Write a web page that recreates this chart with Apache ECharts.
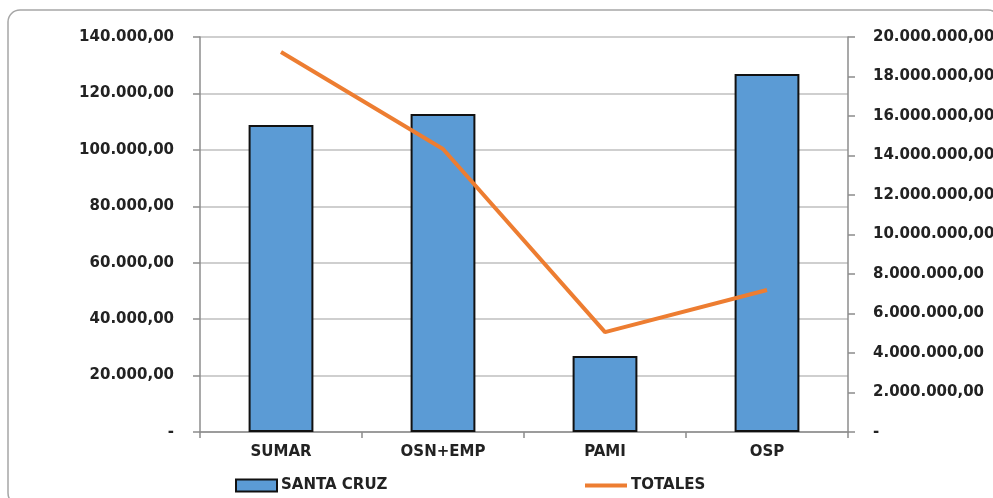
<!DOCTYPE html>
<html><head><meta charset="utf-8">
<script src="https://cdn.jsdelivr.net/npm/echarts@6/dist/echarts.min.js"></script>
<style>html,body{margin:0;padding:0;background:#fff}#c{width:993px;height:498px}</style>
</head><body><div id="c"></div>
<script>
const categories = ['SUMAR', 'OSN+EMP', 'PAMI', 'OSP'];
const santaCruz = [108800, 112700, 26900, 126900];
const totales = [19240000, 14330000, 5060000, 7190000];
const leftTicks = { min: 0, max: 140000, interval: 20000 };
const rightTicks = { min: 0, max: 20000000, interval: 2000000 };

function fmt(n) {
  if (n === 0) return '-';
  const s = Math.round(n).toString().replace(/\B(?=(\d{3})+(?!\d))/g, '.');
  return s + ',00';
}
const FONT = 'DejaVu Sans';
const txt = { fontFamily: FONT, fontSize: 15, fontWeight: 'bold', color: '#222' };
const chart = echarts.init(document.getElementById('c'), null, { renderer: 'canvas' });
chart.setOption({
  animation: false,
  backgroundColor: '#fff',
  graphic: [{
    type: 'rect', z: -10,
    shape: { x: 8, y: 10, width: 992, height: 495, r: 12 },
    style: { fill: '#fff', stroke: '#a6a6a6', lineWidth: 1.5 }
  }],
  grid: { left: 200, right: 145, top: 37, bottom: 66, containLabel: false, outerBoundsMode: 'none' },
  legend: [
    { data: [{ name: 'SANTA CRUZ', icon: 'rect' }], left: 235, top: 478, padding: 0, itemWidth: 41, itemHeight: 12,
      textStyle: Object.assign({}, txt, { padding: [0, 0, 0, -1] }) },
    { data: [{ name: 'TOTALES', icon: 'rect' }], left: 585, top: 478, padding: 0, itemWidth: 42, itemHeight: 4,
      itemStyle: { color: '#ed7d31', borderWidth: 0 },
      textStyle: Object.assign({}, txt, { padding: [0, 0, 0, -1] }) }
  ],
  xAxis: {
    type: 'category', data: categories,
    axisLine: { lineStyle: { color: '#8c8c8c', width: 1.5 } },
    axisTick: { show: true, length: 6, lineStyle: { color: '#8c8c8c', width: 1.5 } },
    axisLabel: Object.assign({}, txt, { margin: 13 })
  },
  yAxis: [{
    type: 'value', min: leftTicks.min, max: leftTicks.max, interval: leftTicks.interval,
    position: 'left',
    axisLine: { show: true, lineStyle: { color: '#8c8c8c', width: 1.5 } },
    axisTick: { show: true, length: 7, lineStyle: { color: '#8c8c8c', width: 1.5 } },
    splitLine: { show: true, lineStyle: { color: '#bfbfbf', width: 1.5 } },
    axisLabel: Object.assign({}, txt, { margin: 26, formatter: fmt })
  }, {
    type: 'value', min: rightTicks.min, max: rightTicks.max, interval: rightTicks.interval,
    position: 'right',
    axisLine: { show: true, lineStyle: { color: '#8c8c8c', width: 1.5 } },
    axisTick: { show: true, length: 7, lineStyle: { color: '#8c8c8c', width: 1.5 } },
    splitLine: { show: false },
    axisLabel: Object.assign({}, txt, { margin: 25, formatter: fmt })
  }],
  series: [{
    name: 'SANTA CRUZ', type: 'bar', data: santaCruz, yAxisIndex: 0, barWidth: '40%',
    itemStyle: { color: '#5b9bd5', borderColor: '#111', borderWidth: 2 }
  }, {
    name: 'TOTALES', type: 'line', data: totales, yAxisIndex: 1,
    symbol: 'none', showSymbol: false,
    lineStyle: { color: '#ed7d31', width: 4 }, itemStyle: { color: '#ed7d31' }
  }]
});
</script></body></html>
